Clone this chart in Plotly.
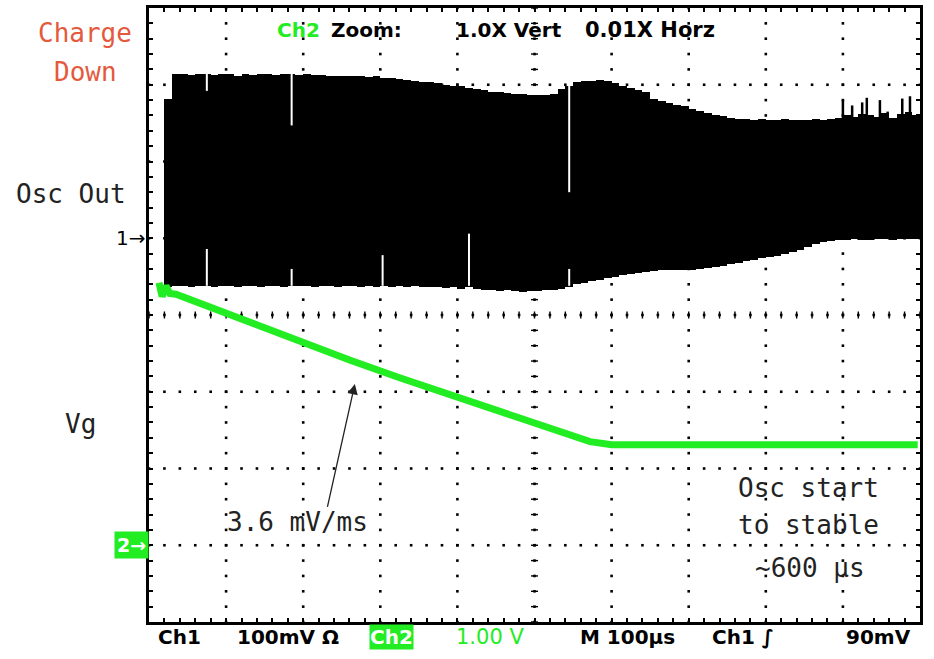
import numpy as np
import plotly.graph_objects as go

# ---- scope setup: 100 us/div horizontally, 10 x 8 divisions ----
T_DIV = 100.0          # us per division
N_HDIV, N_VDIV = 10, 8
CH1_MV_PER_DIV = 100.0  # Ch1 scale
CH1_OFFSET_DIV = 1.0    # Ch1 ground marker position
CH2_V_PER_DIV = 1.0     # Ch2 scale
CH2_OFFSET_DIV = -3.0   # Ch2 ground marker position

# ---- Ch1 (oscillator output) envelope, mV, sampled every 10 us ----
ch1_t = list(range(20, 1000, 10))
ch1_top_mv = [
    181, 214, 214, 213, 214, 214, 213, 214, 214, 212,
    214, 213, 214, 214, 213, 214, 214, 213, 214, 213,
    213, 212, 212, 211, 212, 211, 210, 211, 209, 209,
    207, 206, 205, 204, 203, 202, 200, 199, 198, 196,
    195, 193, 191, 190, 189, 188, 188, 187, 187, 187,
    188, 194, 198, 203, 205, 205, 206, 205, 202, 199,
    196, 193, 190, 181, 179, 176, 174, 172, 168, 166,
    163, 161, 159, 157, 155, 155, 154, 155, 154, 154,
    155, 154, 154, 154, 155, 154, 156, 157, 160, 158,
    162, 160, 158, 163, 157, 162, 165, 160,
]
ch1_bot_mv = [
    -63, -62, -62, -63, -62, -62, -63, -62, -62, -64,
    -62, -62, -63, -62, -62, -63, -62, -62, -62, -63,
    -62, -62, -64, -62, -62, -63, -62, -63, -62, -63,
    -62, -63, -62, -64, -63, -63, -65, -64, -66, -64,
    -66, -67, -68, -69, -68, -69, -70, -69, -69, -68,
    -67, -66, -63, -60, -58, -56, -54, -52, -50, -48,
    -47, -45, -44, -43, -42, -42, -41, -41, -41, -40,
    -39, -38, -36, -34, -32, -30, -28, -26, -24, -23,
    -21, -18, -15, -11, -8, -5, -3, -2, -2, -1,
    -2, -2, -1, -1, -2, -1, -1, -1,
]

# peaks sticking out above the envelope (time us, peak mV)
ch1_peak_t = [900, 912, 925, 931, 948, 958, 977, 987]
ch1_peak_mv = [180, 173, 177, 183, 180, 165, 182, 185]

# short dropouts inside the envelope (time us, from mV, to mV)
ch1_gap_t = [75, 75, 185, 185, 303, 415, 545, 545]
ch1_gap_from = [214, -62, 214, -62, -62, -62, 203, -62]
ch1_gap_to = [192, -14, 147, -40, -22, 6, 60, -40]

# ---- Ch2 (Vg) trace, volts ----
vg_t = [13, 17, 22, 27, 35, 66, 131, 196, 261, 326, 390, 455, 501, 533, 572, 600,
        700, 800, 900, 997]
vg_v = [3.42, 3.24, 3.38, 3.28, 3.27, 3.15, 2.91, 2.65, 2.41, 2.18, 1.96, 1.75,
        1.58, 1.47, 1.35, 1.31, 1.31, 1.31, 1.31, 1.31]

GREEN = "#22ec22"
LABEL_RED = "#e5593c"
MONO = "DejaVu Sans Mono"
STATUS = "DejaVu Sans"


def ch1_div(mv):
    return np.asarray(mv, dtype=float) / CH1_MV_PER_DIV + CH1_OFFSET_DIV


def ch2_div(v):
    return np.asarray(v, dtype=float) / CH2_V_PER_DIV + CH2_OFFSET_DIV


def segments(xs, y0s, y1s):
    x, y = [], []
    for xi, a, b in zip(xs, y0s, y1s):
        x += [xi, xi, None]
        y += [a, b, None]
    return x, y


fig = go.Figure()

# graticule: dotted division lines (dots every 1/5 division)
minor_t = np.arange(0, N_HDIV * T_DIV + 0.1, T_DIV / 5)
minor_d = np.arange(-N_VDIV / 2, N_VDIV / 2 + 0.01, 0.2)
gx, gy = [], []
for k in range(1, N_HDIV):
    if k == N_HDIV // 2:
        continue
    gx += [k * T_DIV] * len(minor_d)
    gy += list(minor_d)
for d in range(-3, 4):
    if d == 0:
        continue
    gx += list(minor_t)
    gy += [d] * len(minor_t)
fig.add_trace(go.Scatter(x=gx, y=gy, mode="markers", hoverinfo="skip",
                         marker=dict(symbol="square", size=2.6, color="black")))
# centre cross-hair with small tick marks
fig.add_trace(go.Scatter(x=list(minor_t), y=[0] * len(minor_t), mode="markers",
                         hoverinfo="skip",
                         marker=dict(symbol="line-ns", size=5, color="black",
                                     line=dict(width=1.4, color="black"))))
fig.add_trace(go.Scatter(x=[5 * T_DIV] * len(minor_d), y=list(minor_d), mode="markers",
                         hoverinfo="skip",
                         marker=dict(symbol="line-ew", size=5, color="black",
                                     line=dict(width=1.4, color="black"))))
fig.add_trace(go.Scatter(x=list(minor_t) + [5 * T_DIV] * len(minor_d),
                         y=[0] * len(minor_t) + list(minor_d), mode="markers",
                         hoverinfo="skip",
                         marker=dict(symbol="square", size=2.6, color="black")))

# Ch1 envelope
top = ch1_div(ch1_top_mv)
bot = ch1_div(ch1_bot_mv)
fig.add_trace(go.Bar(x=ch1_t, y=top - bot, base=bot, width=10, offset=0,
                     marker=dict(color="black", line=dict(width=0)),
                     hoverinfo="skip"))
px_, py_ = segments(ch1_peak_t, ch1_div([154] * len(ch1_peak_t)), ch1_div(ch1_peak_mv))
fig.add_trace(go.Scatter(x=px_, y=py_, mode="lines", hoverinfo="skip",
                         line=dict(color="black", width=2.5)))
wx, wy = segments(ch1_gap_t, ch1_div(ch1_gap_from), ch1_div(ch1_gap_to))
fig.add_trace(go.Scatter(x=wx, y=wy, mode="lines", hoverinfo="skip",
                         line=dict(color="white", width=2)))

# Ch2 trace
fig.add_trace(go.Scatter(x=vg_t, y=ch2_div(vg_v), mode="lines", hoverinfo="skip",
                         line=dict(color=GREEN, width=7)))

ann = []


def text(t, d, s, size=26, color="#222222", family=MONO, xanchor="center", **kw):
    # position given in scope units (us, div); placed in paper space so that
    # labels outside the graticule stay visible
    ann.append(dict(x=t / (N_HDIV * T_DIV), y=(d + N_VDIV / 2) / N_VDIV,
                    xref="paper", yref="paper", text=s, showarrow=False,
                    xanchor=xanchor, yanchor="middle",
                    font=dict(family=family, size=size, color=color), **kw))


# channel labels on the left
text(-83, 3.68, "Charge", color=LABEL_RED)
text(-83, 3.16, "Down", color=LABEL_RED)
text(-101, 1.58, "Osc Out")
text(-89, -1.42, "Vg")
text(-2, CH1_OFFSET_DIV, "1→", size=20, color="black", family=STATUS, xanchor="right")
text(0, CH2_OFFSET_DIV, "<b>2→</b>", size=19, color="white", family=STATUS,
     xanchor="right", bgcolor=GREEN, borderpad=2)

# zoom status line
text(163, 3.716, "<b>Ch2</b>", size=20, color=GREEN, family=STATUS, xanchor="left")
text(233, 3.716, "<b>Zoom:</b>", size=20, color="black", family=STATUS, xanchor="left")
text(395, 3.716, "<b>1.0X Vert</b>", size=20, color="black", family=STATUS, xanchor="left")
text(563, 3.716, "<b>0.01X Horz</b>", size=21, color="black", family=STATUS, xanchor="left")

# bottom status line
yb = -4.19
text(9, yb, "<b>Ch1</b>", size=20, color="black", family=STATUS, xanchor="left")
text(111, yb, "<b>100mV Ω</b>", size=20, color="black", family=STATUS, xanchor="left")
text(285, yb, "<b>Ch2</b>", size=20, color="white", family=STATUS, xanchor="left",
     bgcolor=GREEN, borderpad=0)
text(395, yb, "1.00 V", size=21, color=GREEN, family=STATUS, xanchor="left")
text(557, yb, "<b>M 100µs</b>", size=20, color="black", family=STATUS, xanchor="left")
text(728, yb, "<b>Ch1 ∫</b>", size=20, color="black", family=STATUS, xanchor="left")
text(901, yb, "<b>90mV</b>", size=20, color="black", family=STATUS, xanchor="left")

# slope callout
text(193, -2.70, "3.6 mV/ms")
ann.append(dict(x=267, y=-0.90, ax=231, ay=-2.52, xref="x", yref="y",
                axref="x", ayref="y", text="", showarrow=True, arrowhead=2,
                arrowsize=1.6, arrowwidth=1.3, arrowcolor="#222222"))

# settling time note
text(855, -2.26, "Osc start")
text(856, -2.74, "to stable")
text(857, -3.29, "~600 µs")

axis_common = dict(showgrid=False, zeroline=False, showticklabels=False,
                   showline=True, linecolor="black", linewidth=2.5,
                   mirror="ticks", ticks="inside", ticklen=4, tickwidth=1.5,
                   tickcolor="black", fixedrange=True)
fig.update_layout(
    width=934, height=659,
    margin=dict(l=149, r=14, t=5, b=37),
    paper_bgcolor="white", plot_bgcolor="white",
    showlegend=False, bargap=0,
    xaxis=dict(range=[0, N_HDIV * T_DIV], tick0=0, dtick=T_DIV / 5, **axis_common),
    yaxis=dict(range=[-N_VDIV / 2, N_VDIV / 2], tick0=0, dtick=0.2, **axis_common),
    annotations=ann,
)
fig.write_html("out.html", config={"displayModeBar": False})
